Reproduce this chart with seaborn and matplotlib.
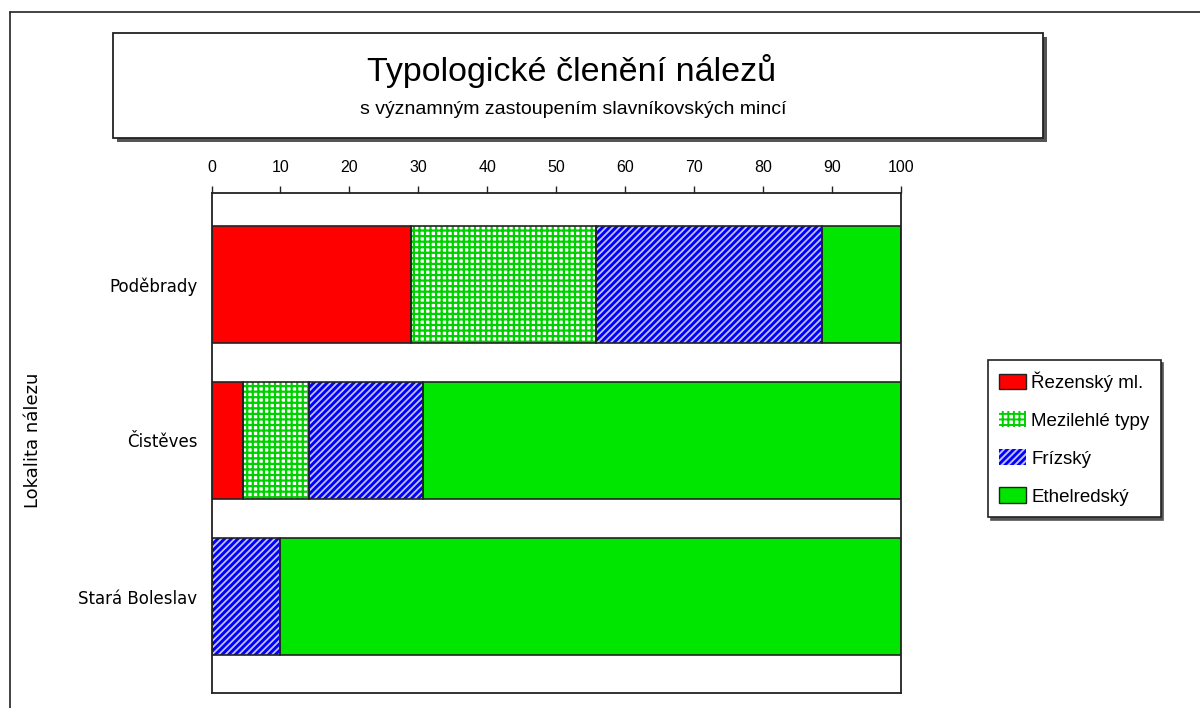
import matplotlib
matplotlib.use("Agg")
import matplotlib.pyplot as plt
from matplotlib.patches import Rectangle, Patch
from matplotlib.lines import Line2D
import seaborn as sns
import pandas as pd
import numpy as np

locations = ["Poděbrady", "Čistěves", "Stará Boleslav"]
series_names = ["Řezenský ml.", "Mezilehlé typy", "Frízský", "Ethelredský"]
rezensky = [28.9, 4.6, 0.0]
mezilehle = [26.8, 9.5, 0.0]
frizsky = [32.8, 16.6, 9.9]
ethelredsky = [11.5, 69.3, 90.2]
x_ticks = [0, 10, 20, 30, 40, 50, 60, 70, 80, 90, 100]

title = "Typologické členění nálezů"
subtitle = "s významným zastoupením slavníkovských mincí"
ylabel = "Lokalita nálezu"

sns.set_theme(style="white")
plt.rcParams['font.family'] = ['DejaVu Sans']
plt.rcParams['text.color'] = 'black'
plt.rcParams['axes.labelcolor'] = 'black'
plt.rcParams['xtick.color'] = 'black'
plt.rcParams['ytick.color'] = 'black'
plt.rcParams['hatch.linewidth'] = 1.4

fig = plt.figure(figsize=(12, 7.08), dpi=100)
ax = fig.add_axes([211.5 / 1200, 15 / 708, 689.5 / 1200, 500 / 708])

values = [rezensky, mezilehle, frizsky, ethelredsky]
cum = np.cumsum(np.array(values), axis=0)
styles = [
    dict(face="#ff0000", hatch=None, hcol=None, hlw=None),
    dict(face="#ffffff", hatch="+++", hcol="#00d000", hlw=1.6),
    dict(face="#0000ff", hatch="/////", hcol="#c0c0ff", hlw=1.3),
    dict(face="#00e600", hatch=None, hcol=None, hlw=None),
]

for i in reversed(range(4)):
    df = pd.DataFrame({"loc": locations, "val": cum[i]})
    n_before = len(ax.patches)
    sns.barplot(data=df, x="val", y="loc", orient="h", color=styles[i]["face"],
                width=0.75, ax=ax, saturation=1, linewidth=0)
    new = ax.patches[n_before:]
    for p in new:
        p.set_facecolor(styles[i]["face"])
        if styles[i]["hatch"]:
            p.set_hatch(styles[i]["hatch"])
            p.set_edgecolor(styles[i]["hcol"])
            p.set_linewidth(0)
            try:
                p.set_hatch_linewidth(styles[i]["hlw"])
            except Exception:
                pass
        else:
            p.set_edgecolor("none")
            p.set_linewidth(0)

for i in range(4):
    left = cum[i] - np.array(values[i])
    for j, loc in enumerate(locations):
        if values[i][j] <= 0:
            continue
        ax.add_patch(Rectangle((left[j], j - 0.375), values[i][j], 0.75,
                               fill=False, edgecolor="#222222", linewidth=1.2, zorder=5))

ax.set_xlim(0, 100)
ax.set_ylim(2 + 96.5 / 156, -91.5 / 156)
ax.xaxis.tick_top()
ax.set_xticks(x_ticks)
ax.set_xticklabels([str(t) for t in x_ticks], fontsize=11.5, family="Liberation Sans")
ax.tick_params(axis="x", which="both", direction="out", length=5, width=1, color="#222222",
               pad=8, top=True, bottom=False)
ax.tick_params(axis="y", length=0, pad=10, labelsize=12)
ax.set_xlabel("")
ax.set_ylabel(ylabel, fontsize=13, color="black")
ax.yaxis.set_label_coords((42 - 211.5) / 689.5, (708 - 440 - 15) / 500)
for s in ax.spines.values():
    s.set_color("#222222")
    s.set_linewidth(1.3)
    s.set_visible(True)

# title box
fig.add_artist(Rectangle((117 / 1200, 1 - 142 / 708), 930 / 1200, 105 / 708,
                         transform=fig.transFigure, facecolor="#555555", edgecolor="none", zorder=1))
fig.add_artist(Rectangle((113 / 1200, 1 - 138 / 708), 930 / 1200, 105 / 708,
                         transform=fig.transFigure, facecolor="white", edgecolor="#222222", linewidth=1.3, zorder=2))
fig.text(572 / 1200, 1 - 71 / 708, title, ha="center", va="center",
         fontsize=24.5, family="Liberation Sans", color="black", zorder=3)
fig.text(573 / 1200, 1 - 110 / 708, subtitle, ha="center", va="center",
         fontsize=14, family="Liberation Sans", color="black", zorder=3)

# outer frame
fig.add_artist(Line2D([10 / 1200, 10 / 1200], [0, 1 - 12 / 708], transform=fig.transFigure, color="#222222", lw=1.2))
fig.add_artist(Line2D([10 / 1200, 1], [1 - 12 / 708, 1 - 12 / 708], transform=fig.transFigure, color="#222222", lw=1.2))

# legend
handles = []
for i, name in enumerate(series_names):
    st = styles[i]
    if st["hatch"]:
        h = Patch(facecolor=st["face"], edgecolor=st["hcol"], hatch=st["hatch"], linewidth=0, label=name)
    else:
        h = Patch(facecolor=st["face"], edgecolor="#222222", linewidth=1, label=name)
    handles.append(h)
leg = fig.legend(handles=handles, loc="upper left", bbox_to_anchor=(988 / 1200, 1 - 360 / 708),
                 prop={"family": "Liberation Sans", "size": 13.5}, frameon=True, fancybox=False,
                 shadow={"color": "#555555", "alpha": 1},
                 handlelength=1.4, handleheight=0.9, labelspacing=1.05, borderpad=0.6,
                 handletextpad=0.3, borderaxespad=0)
leg.get_frame().set_edgecolor("#222222")
leg.get_frame().set_linewidth(1.2)
for t in leg.get_texts():
    t.set_color("black")

fig.savefig("out.png", dpi=100)
